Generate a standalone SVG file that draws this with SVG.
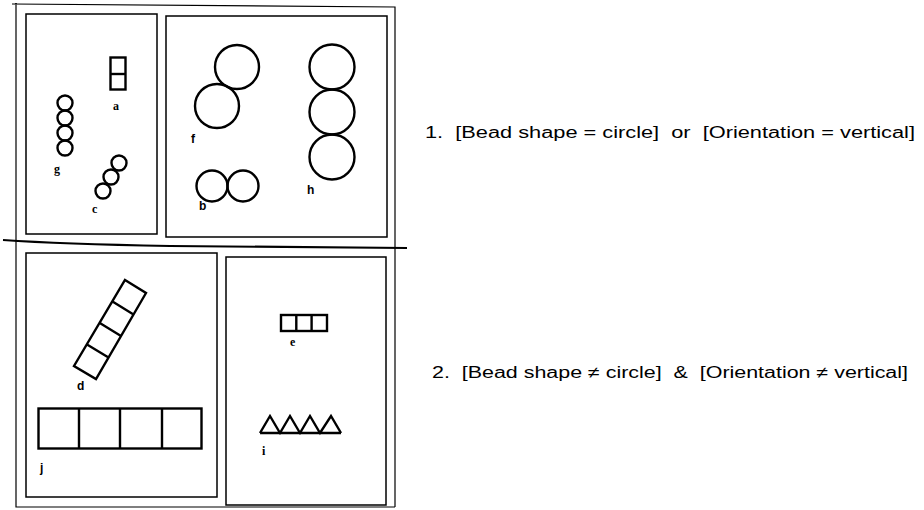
<svg xmlns="http://www.w3.org/2000/svg" width="924" height="510" viewBox="0 0 924 510">
<style>
.frame{fill:none;stroke:#000;stroke-width:1.2}
.panel{fill:none;stroke:#000;stroke-width:1.5}
.bead{fill:none;stroke:#000;stroke-width:2.4}
.lbl{font-family:"Liberation Serif",serif;font-weight:bold;font-size:12px;fill:#000}
.lbls{font-family:"Liberation Sans",sans-serif;font-weight:bold;font-size:12px;fill:#000}
.rule{font-family:"Liberation Sans",Arial,sans-serif;font-size:16px;fill:#000}
</style>
<rect width="924" height="510" fill="#fff"/>
<g id="frame">
<path class="frame" d="M16,3 L16,507 L395,507 M12,4 L395,7 L395,507"/>
<path d="M3,240 Q60,244 170,246 L407,248" fill="none" stroke="#000" stroke-width="2.2"/>
</g>
<g id="panel-top-left">
<rect class="panel" x="26" y="14" width="131" height="220"/>
<g id="a"><rect class="bead" x="110.5" y="57.5" width="15" height="32"/><line class="bead" x1="110.5" y1="74" x2="125.5" y2="74"/><text class="lbl" x="113" y="110">a</text></g>
<g id="g"><circle class="bead" cx="65" cy="103" r="7.5"/><circle class="bead" cx="65" cy="118" r="7.5"/><circle class="bead" cx="65" cy="133" r="7.5"/><circle class="bead" cx="65" cy="148" r="7.5"/><text class="lbl" x="54" y="173">g</text></g>
<g id="c"><circle class="bead" cx="103" cy="191" r="7.5"/><circle class="bead" cx="111" cy="177" r="7.5"/><circle class="bead" cx="119" cy="163" r="7.5"/><text class="lbl" x="92" y="213">c</text></g>
</g>
<g id="panel-top-right">
<rect class="panel" x="166" y="16" width="221" height="221"/>
<g id="f"><circle class="bead" cx="237" cy="67" r="22"/><circle class="bead" cx="217" cy="106" r="22"/><text class="lbls" x="191" y="143">f</text></g>
<g id="h"><circle class="bead" cx="332" cy="67" r="22.5"/><circle class="bead" cx="332" cy="112" r="22.5"/><circle class="bead" cx="332" cy="157" r="22.5"/><text class="lbls" x="307" y="194">h</text></g>
<g id="b"><circle class="bead" cx="212" cy="186" r="15.5"/><circle class="bead" cx="243" cy="186" r="15.5"/><text class="lbls" x="199" y="210">b</text></g>
</g>
<g id="panel-bottom-left">
<rect class="panel" x="26" y="253" width="191" height="244"/>
<g id="d"><path class="bead" d="M125,280 L146,293 L96,379 L74,366 Z M112.5,301.5 L133.5,314.5 M99.8,323 L121,336 M87,344.5 L108.5,357.5"/><text class="lbls" x="77" y="390">d</text></g>
<g id="j"><rect class="bead" x="38.5" y="408.5" width="163" height="40" stroke-width="3"/><path class="bead" stroke-width="3" d="M79,408.5 V448.5 M120,408.5 V448.5 M162,408.5 V448.5"/><text class="lbls" x="40" y="472">j</text></g>
</g>
<g id="panel-bottom-right">
<rect class="panel" x="226" y="257" width="160" height="248"/>
<g id="e"><rect class="bead" x="281" y="315" width="46" height="16"/><path class="bead" d="M296.3,315 V331 M311.6,315 V331"/><text class="lbl" x="290" y="346">e</text></g>
<g id="i"><path class="bead" stroke-linejoin="miter" d="M260,433 L341,433 M260,433 L270,416 L280,433 L290,416 L300,433 L310,416 L320,433 L331,416 L341,433"/><text class="lbl" x="262" y="455">i</text></g>
</g>
<g id="rules">
<text class="rule" x="425" y="137.5" textLength="490" lengthAdjust="spacingAndGlyphs" xml:space="preserve">1.  [Bead shape = circle]  or  [Orientation = vertical]</text>
<text class="rule" x="432" y="378" textLength="476" lengthAdjust="spacingAndGlyphs" xml:space="preserve">2.  [Bead shape ≠ circle]  &amp;  [Orientation ≠ vertical]</text>
</g>
</svg>
